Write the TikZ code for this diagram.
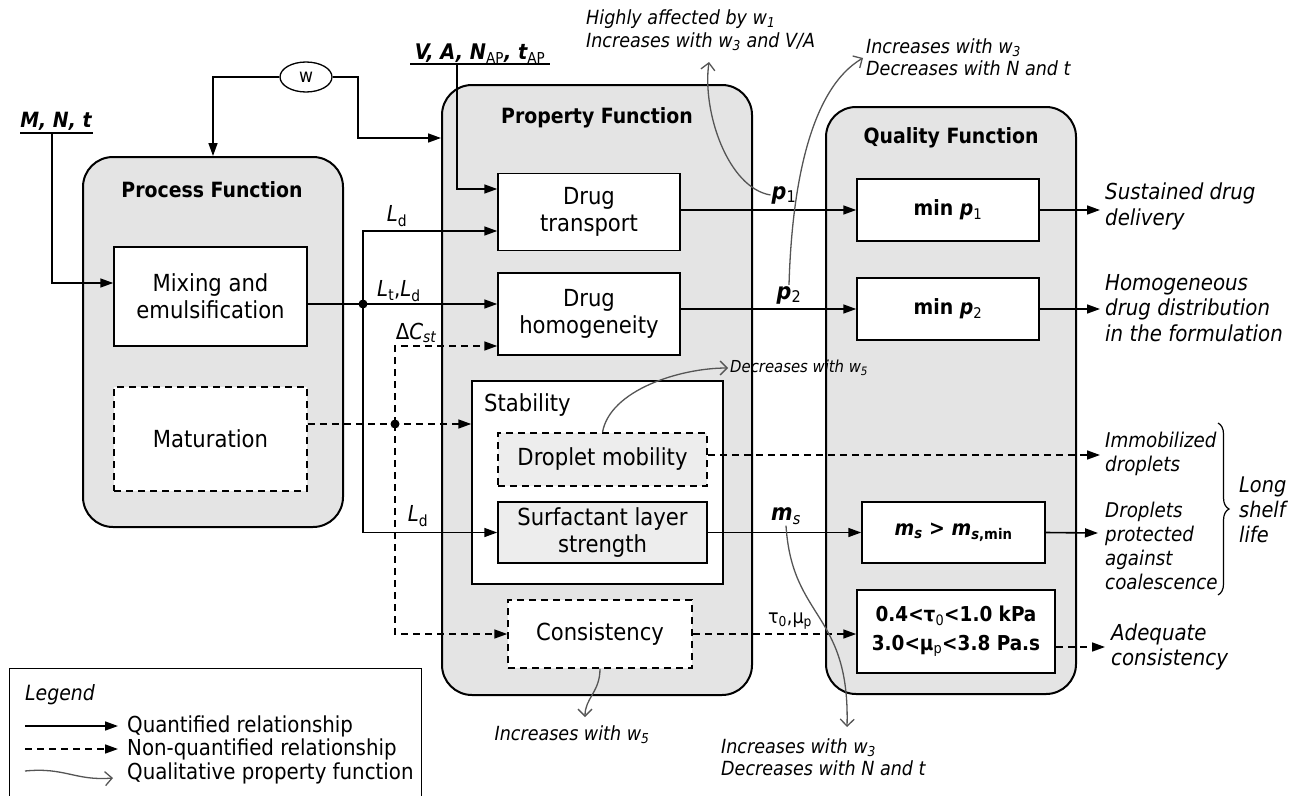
\documentclass[tikz,border=0pt]{standalone}
\usepackage{fontspec}
\setmainfont{DejaVu Sans Condensed}
\usetikzlibrary{arrows.meta,decorations.pathreplacing,calc,shapes.geometric}

\definecolor{grpfill}{HTML}{E4E4E4}
\definecolor{innerfill}{HTML}{EDEDED}
\definecolor{qgray}{HTML}{555555}

\newcommand{\subtx}[1]{\textsubscript{#1}}

\tikzset{
  grp/.style={draw, line width=2pt, rounded corners=30pt, fill=grpfill, inner sep=0pt},
  ttl/.style={font=\fontsize{21}{24}\selectfont\bfseries},
  box/.style={draw, line width=1.5pt, fill=white, inner sep=0pt, align=center},
  dbox/.style={box, dash pattern=on 7pt off 5pt},
  arr/.style={line width=1.6pt, -{Triangle[length=13pt,width=9pt]}},
  darr/.style={arr, dash pattern=on 7pt off 5pt},
  qual/.style={draw=qgray, line width=1.3pt, -{Straight Barb[length=7pt,width=14pt]}},
  lbl/.style={font=\fontsize{22}{24}\selectfont, inner sep=1pt},
  outtxt/.style={anchor=west, align=left, font=\fontsize{22}{25.5}\selectfont\itshape, inner sep=0pt},
  note/.style={align=left, font=\fontsize{19.5}{22.5}\selectfont\itshape, inner sep=0pt},
}

\begin{document}
\begin{tikzpicture}[x=1pt,y=-1pt, font=\fontsize{23.5}{27}\selectfont]
\useasboundingbox (0,0) rectangle (1292,795);

% ---- function groups
\node[grp, minimum width=260, minimum height=370] (proc) at (213,342) {};
\node[grp, minimum width=310, minimum height=610] (prop) at (597,390) {};
\node[grp, minimum width=250, minimum height=587] (qual) at (951,400.5) {};

\node[ttl] (proct) at (212,190) {Process Function};
\node[ttl] (propt) at (597,118) {Property Function};
\node[ttl] (qualt) at (951,138) {Quality Function};

% ---- process function
\node[box, minimum width=193, minimum height=99] (mix) at (210.5,296.5) {Mixing and\\emulsification};
\node[dbox, minimum width=193, minimum height=104] (mat) at (210.5,439) {Maturation};

% ---- property function
\node[box, minimum width=182, minimum height=77] (trans) at (589,212) {Drug\\transport};
\node[box, minimum width=182, minimum height=82] (homo) at (589,314) {Drug\\homogeneity};
\node[box, minimum width=251, minimum height=203] (stab) at (597.5,482.5) {};
\node[anchor=west, inner sep=0pt] (stabt) at (484,405) {Stability};
\node[dbox, fill=innerfill, minimum width=209, minimum height=53] (mob) at (602.5,459.5) {Droplet mobility};
\node[box, fill=innerfill, minimum width=209, minimum height=61] (surf) at (602.5,532.5) {Surfactant layer\\strength};
\node[dbox, minimum width=184, minimum height=68] (cons) at (600,634) {Consistency};

% ---- quality function
\node[box, minimum width=182, minimum height=62, font=\fontsize{21}{27}\selectfont] (q1) at (948,210) {\bfseries min \textit{p}\subtx{\mdseries 1}};
\node[box, minimum width=182, minimum height=62, font=\fontsize{21}{27}\selectfont] (q2) at (948,309) {\bfseries min \textit{p}\subtx{\mdseries 2}};
\node[box, minimum width=183, minimum height=61, font=\fontsize{21}{27}\selectfont] (q3) at (953.5,532.5) {\bfseries\textit{m}\subtx{\itshape s} > \textit{m}\subtx{\itshape s\upshape,min}};
\node[box, minimum width=198, minimum height=83, font=\fontsize{20.5}{29}\selectfont\bfseries] (q4) at (956,631.5) {0.4<τ\subtx{\mdseries 0}<1.0 kPa\\3.0<μ\subtx{\mdseries p}<3.8 Pa.s};

% ---- inputs
\node[font=\fontsize{21}{24}\selectfont\bfseries\itshape, inner sep=0pt] (mnt) at (56,121) {M, N, t};
\draw[line width=1.6pt] (20,133) -- (93,133);
\coordinate (mntf) at (52,133);
\draw[arr] (mntf) |- (mix.west |- 0,283);

\node[font=\fontsize{21.5}{24}\selectfont\bfseries\itshape, inner sep=0pt] (vat) at (480,54) {V, A, N\subtx{\upshape\mdseries AP}, t\subtx{\upshape\mdseries AP}};
\draw[line width=1.6pt] (410,64) -- (550,64);
\coordinate (vatf) at (457,64);
\draw[arr] (vatf) |- (trans.west |- 0,189);

\node[draw, ellipse, line width=1.3pt, minimum width=52, minimum height=30, inner sep=0pt, font=\fontsize{19}{20}\selectfont] (w) at (306,77) {w};
\draw[arr] (w.west) -| (proc.north);
\coordinate (wk) at (358,138);
\draw[arr] (w.east) -| (wk) -- (wk -| prop.west);

% ---- process -> property
\coordinate (j1) at (363,304);
\coordinate (ldtop) at (363,231);
\draw[arr] (mix.east |- j1) -- (j1) -- (j1 -| homo.west);
\draw[arr] (j1) -- (ldtop) -- (ldtop -| trans.west);
\draw[arr] (j1) |- (surf.west);
\fill (j1) circle (4.5pt);

\coordinate (j2) at (395,424);
\draw[darr] (mat.east |- j2) -- (j2) -- (j2 -| stab.west);
\draw[darr] (j2) |- (homo.west |- 0,346);
\draw[darr] (j2) |- (cons.west);
\fill (j2) circle (4.5pt);

\node[lbl] (ld1) at (397,216) {\textit{L}\subtx{d}};
\node[lbl] (ltd) at (399,291) {\textit{L}\subtx{t},\textit{L}\subtx{d}};
\node[lbl] (dcst) at (416,333) {Δ\textit{C}\subtx{\itshape st}};
\node[lbl] (ld2) at (418,516) {\textit{L}\subtx{d}};

% ---- property -> quality
\draw[arr] (trans.east |- q1.west) -- (q1.west);
\draw[arr] (homo.east |- q2.west) -- (q2.west);
\draw[arr] (surf.east) -- (surf.east -| q3.west);
\draw[darr] (cons.east) -- (cons.east -| q4.west);
\coordinate (o5) at (1100,455);
\draw[darr] (mob.east |- o5) -- (o5);

\node[lbl, font=\fontsize{23}{24}\selectfont\bfseries] (lp1) at (784,195) {\textit{p}\subtx{\mdseries 1}};
\node[lbl, font=\fontsize{23}{24}\selectfont\bfseries] (lp2) at (789,295) {\textit{p}\subtx{\mdseries 2}};
\node[lbl, font=\fontsize{23}{24}\selectfont\bfseries] (lms) at (786,516) {\textit{m}\subtx{\mdseries\itshape s}};
\node[lbl, font=\fontsize{19.5}{22}\selectfont] (ltau) at (790,621) {τ\subtx{0},μ\subtx{p}};

% ---- quality outputs
\coordinate (o1) at (1100,210);
\coordinate (o2) at (1100,309);
\coordinate (o3) at (1098,533);
\coordinate (o4) at (1105,647);
\draw[arr] (q1.east) -- (o1);
\draw[arr] (q2.east) -- (o2);
\draw[arr] (q3.east) -- (o3);
\draw[darr] (q4.east |- o4) -- (o4);

\node[outtxt] (t1) at (1105,206.5) {Sustained drug\\delivery};
\node[outtxt] (t2) at (1105,308) {Homogeneous\\drug distribution\\in the formulation};
\node[outtxt, font=\fontsize{20.3}{24}\selectfont\itshape] (t5) at (1105,454) {Immobilized\\droplets};
\node[outtxt, font=\fontsize{20.3}{24}\selectfont\itshape] (t3) at (1105,546) {Droplets\\protected\\against\\coalescence};
\node[outtxt] (t4) at (1111,647) {Adequate\\consistency};

\draw[line width=1.2pt, decorate, decoration={brace, amplitude=11pt}] (1218,423) -- (1218,595);
\node[outtxt, font=\fontsize{21.5}{25}\selectfont\itshape] (shelf) at (1239,510) {Long\\shelf\\life};

% ---- qualitative property functions
\node[note, anchor=west] (n1) at (586,30) {Highly affected by \textit{w}\subtx{1}\\Increases with \textit{w}\subtx{3} and V/A};
\node[note, anchor=west] (n2) at (866,57) {Increases with \textit{w}\subtx{3}\\Decreases with N and t};
\node[note, anchor=west, font=\fontsize{16.5}{18}\selectfont\itshape] (n3) at (730,368) {Decreases with \textit{w}\subtx{5}};
\node[note] (n4) at (572,735) {Increases with \textit{w}\subtx{5}};
\node[note, anchor=west] (n5) at (721,757) {Increases with \textit{w}\subtx{3}\\Decreases with N and t};

\coordinate (c1) at (709,62);
\coordinate (c2) at (863,58);
\coordinate (c3) at (728,368);
\coordinate (c4) at (585,717);
\coordinate (c5) at (847,727);
\draw[qual] (lp1.west) .. controls (728,188) and (702,112) .. (c1);
\draw[qual] (lp2.north) .. controls (792,180) and (812,88) .. (c2);
\draw[qual] (mob.north) .. controls (610,390) and (680,368) .. (c3);
\draw[qual] (cons.south) .. controls (600,692) and (585,698) .. (c4);
\draw[qual] (lms.south) .. controls (792,620) and (850,612) .. (c5);

% ---- legend
\node[draw, line width=1.2pt, minimum width=412, minimum height=140, anchor=north west, inner sep=0pt] (leg) at (9,668) {};
\node[anchor=west, inner sep=0pt, font=\fontsize{21}{24}\selectfont\itshape] (legt) at (25,695) {Legend};
\coordinate (la1) at (25,726); \coordinate (lb1) at (118,726);
\coordinate (la2) at (25,749); \coordinate (lb2) at (118,749);
\coordinate (la3) at (25,771); \coordinate (lb3) at (113,778);
\draw[arr] (la1) -- (lb1);
\draw[darr] (la2) -- (lb2);
\draw[qual] (la3) .. controls (65,767) and (75,781) .. (lb3);
\begin{scope}[every node/.style={anchor=west, inner sep=0pt, font=\fontsize{22}{24}\selectfont}]
\node (lt1) at (127,726) {Quantified relationship};
\node (lt2) at (127,749) {Non-quantified relationship};
\node (lt3) at (127,773) {Qualitative property function};
\end{scope}
\end{tikzpicture}
\end{document}
